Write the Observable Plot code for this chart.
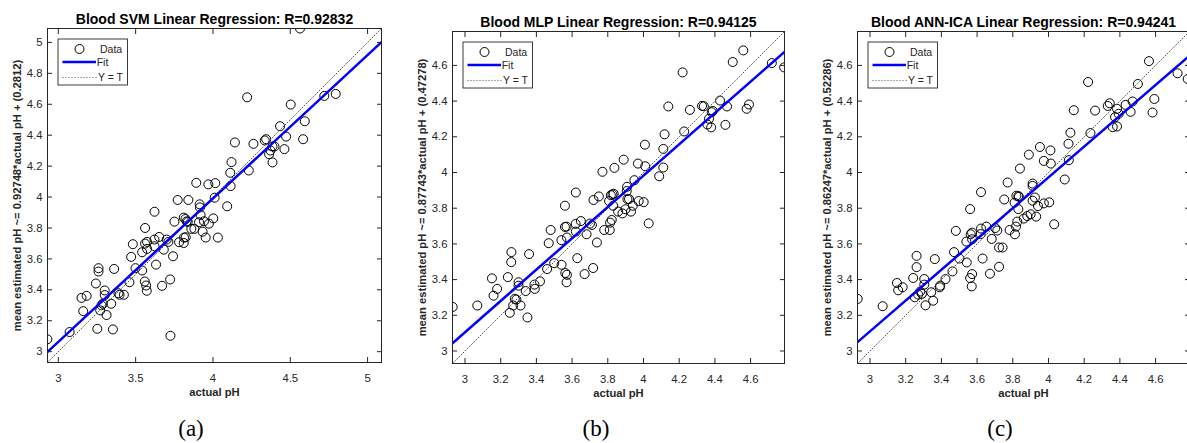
<!DOCTYPE html>
<html><head><meta charset="utf-8">
<script src="https://cdn.jsdelivr.net/npm/d3@7"></script>
<script src="https://cdn.jsdelivr.net/npm/@observablehq/plot@0.6"></script>
<style>
html,body{margin:0;padding:0;background:#fff;}
body{width:1187px;height:443px;overflow:hidden;position:relative;font-family:"Liberation Sans",Arial,sans-serif;}
.panel{position:absolute;top:0;height:400px;}
.cap{position:absolute;top:415px;width:80px;text-align:center;font-family:"Liberation Serif","DejaVu Serif",serif;font-size:23px;line-height:28px;color:#000;}
</style></head><body>
<div id="pa" class="panel" style="left:0px;width:395px"></div>
<div id="pb" class="panel" style="left:395px;width:400px"></div>
<div id="pc" class="panel" style="left:790px;width:400px"></div>
<div class="cap" style="left:151px">(a)</div>
<div class="cap" style="left:556px">(b)</div>
<div class="cap" style="left:960px">(c)</div>
<script>
// ---- data ----
const svmActual = [2.929,3.073,3.15,3.183,3.161,3.243,3.26,3.26,3.252,3.271,3.279,3.30,3.30,3.288,3.312,3.342,3.361,3.353,3.389,3.396,3.424,3.46,3.471,3.482,3.499,3.542,3.542,3.559,3.568,3.572,3.561,3.561,3.574,3.574,3.622,3.622,3.622,3.652,3.632,3.671,3.682,3.701,3.712,3.723,3.725,3.742,3.751,3.772,3.781,3.811,3.813,3.824,3.811,3.822,3.83,3.837,3.841,3.86,3.88,3.892,3.91,3.914,3.916,3.92,3.933,3.942,3.953,3.974,3.97,4.002,4.011,4.015,4.032,4.092,4.114,4.112,4.12,4.142,4.221,4.232,4.262,4.335,4.344,4.363,4.372,4.385,4.385,4.398,4.434,4.462,4.473,4.503,4.563,4.583,4.594,4.72,4.794];
const svmEstimate = [3.08,3.127,3.348,3.361,3.262,3.441,3.54,3.518,3.148,3.267,3.30,3.396,3.366,3.31,3.237,3.31,3.535,3.144,3.378,3.368,3.368,3.449,3.613,3.695,3.54,3.643,3.525,3.454,3.428,3.394,3.80,3.699,3.71,3.665,3.725,3.905,3.682,3.742,3.563,3.426,3.66,3.725,3.71,3.467,3.103,3.617,3.841,3.981,3.708,3.703,3.738,3.740,3.867,3.858,3.843,3.839,3.981,3.794,3.794,4.092,3.837,3.953,3.933,3.884,3.776,3.843,3.738,3.828,4.082,3.862,3.996,4.09,3.738,3.94,4.071,4.157,4.226,4.353,4.645,4.172,4.344,4.366,4.374,4.277,4.301,4.224,4.327,4.327,4.458,4.31,4.391,4.598,5.09,4.374,4.49,4.654,4.667];

const mlpActual = [2.931,3.069,3.151,3.16,3.18,3.24,3.26,3.259,3.251,3.27,3.279,3.288,3.30,3.30,3.311,3.34,3.35,3.359,3.389,3.391,3.42,3.46,3.469,3.48,3.50,3.54,3.541,3.56,3.56,3.562,3.569,3.569,3.571,3.571,3.621,3.621,3.62,3.629,3.649,3.67,3.681,3.70,3.711,3.718,3.72,3.739,3.75,3.77,3.78,3.811,3.813,3.822,3.807,3.817,3.826,3.833,3.83,3.837,3.858,3.882,3.889,3.899,3.908,3.906,3.91,3.919,3.93,3.94,3.949,3.969,3.973,4.001,4.008,4.01,4.029,4.088,4.111,4.111,4.118,4.139,4.219,4.228,4.26,4.328,4.338,4.358,4.367,4.379,4.382,4.388,4.429,4.459,4.468,4.50,4.559,4.578,4.591,4.719,4.788];
const mlpEstimate = [3.247,3.255,3.407,3.31,3.348,3.414,3.554,3.498,3.214,3.255,3.292,3.288,3.385,3.366,3.255,3.336,3.188,3.543,3.372,3.348,3.39,3.459,3.604,3.678,3.492,3.621,3.483,3.814,3.695,3.437,3.697,3.385,3.427,3.636,3.669,3.888,3.712,3.52,3.728,3.431,3.654,3.714,3.706,3.465,3.846,3.608,3.866,4.004,3.678,3.678,3.719,3.734,3.84,3.873,3.877,3.881,3.814,4.026,3.781,3.771,4.072,3.794,3.92,3.896,3.851,3.851,3.781,3.814,3.957,4.05,3.84,3.834,4.156,4.035,3.715,3.979,4.132,4.028,4.214,4.37,4.561,4.23,4.351,4.373,4.371,4.269,4.301,4.253,4.338,4.345,4.403,4.267,4.37,4.619,4.684,4.357,4.381,4.613,4.589];

const icaActual = [2.931,3.071,3.151,3.158,3.183,3.242,3.261,3.261,3.251,3.27,3.281,3.291,3.304,3.304,3.311,3.343,3.354,3.363,3.391,3.393,3.423,3.462,3.471,3.481,3.501,3.54,3.542,3.561,3.564,3.561,3.572,3.57,3.572,3.572,3.622,3.622,3.62,3.631,3.652,3.672,3.682,3.702,3.713,3.723,3.723,3.743,3.752,3.771,3.782,3.812,3.818,3.825,3.81,3.82,3.831,3.834,3.831,3.84,3.862,3.881,3.89,3.90,3.911,3.911,3.911,3.924,3.931,3.941,3.952,3.974,3.974,4.004,4.011,4.013,4.032,4.091,4.112,4.114,4.123,4.142,4.222,4.235,4.261,4.332,4.343,4.36,4.373,4.384,4.384,4.393,4.432,4.46,4.471,4.501,4.563,4.583,4.593,4.723,4.78];
const icaEstimate = [3.292,3.251,3.381,3.34,3.357,3.409,3.533,3.47,3.301,3.316,3.333,3.32,3.403,3.372,3.256,3.329,3.282,3.515,3.357,3.366,3.403,3.446,3.554,3.673,3.518,3.613,3.496,3.795,3.654,3.409,3.663,3.362,3.431,3.626,3.686,3.89,3.655,3.518,3.697,3.433,3.628,3.689,3.675,3.472,3.58,3.58,3.849,3.944,3.678,3.654,3.697,3.725,3.831,3.87,3.868,3.864,3.795,4.022,3.742,3.756,4.1,3.766,3.938,3.925,3.842,3.86,3.753,3.812,4.143,4.065,3.827,3.833,4.124,4.05,3.71,3.961,4.161,4.069,4.223,4.349,4.507,4.221,4.347,4.373,4.388,4.254,4.31,4.258,4.357,4.329,4.379,4.34,4.398,4.496,4.624,4.336,4.412,4.556,4.524];

const titles = ["Blood SVM Linear Regression: R=0.92832", "Blood MLP Linear Regression: R=0.94125", "Blood ANN-ICA Linear Regression: R=0.94241"];
const slopes = [0.92748, 0.87743, 0.86247];
const intercepts = [0.2812, 0.47278, 0.52286];
const yLabels = ["mean estimated pH ~= 0.92748*actual pH + (0.2812)", "mean estimated pH ~= 0.87743*actual pH + (0.47278)", "mean estimated pH ~= 0.86247*actual pH + (0.52286)"];
const xLabel = "actual pH";
const domainA = [2.93, 5.09];
const domainBC = [2.93, 4.79];
const ticksA_x = [3, 3.5, 4, 4.5, 5];
const ticksA_y = [3, 3.2, 3.4, 3.6, 3.8, 4, 4.2, 4.4, 4.6, 4.8, 5];
const ticksBC = [3, 3.2, 3.4, 3.6, 3.8, 4, 4.2, 4.4, 4.6];
const legendLabels = ["Data", "Fit", "Y = T"];

const INK = "#262626";
const FONT = "'Liberation Sans', Arial, sans-serif";

function panel(o) {
  const rows = o.actual.map((x, i) => ({x, y: o.est[i]}));
  const [lo, hi] = o.domain;
  const fit = [lo, hi].map(x => ({x, y: o.slope * x + o.intercept}));
  const ident = [lo, hi].map(v => ({x: v, y: v}));
  const fmt = d => String(d);
  const svg = Plot.plot({
    width: o.width, height: 400,
    marginLeft: o.mL, marginRight: o.mR, marginTop: o.mT, marginBottom: o.mB,
    x: {domain: o.domain, label: null},
    y: {domain: o.domain, label: null},
    style: {background: "transparent", overflow: "visible", maxWidth: "none", fontFamily: FONT},
    marks: [
      Plot.dot(rows, {x: "x", y: "y", r: 4.5, stroke: "#000", strokeWidth: 1, fill: "none", clip: true}),
      Plot.line(ident, {x: "x", y: "y", stroke: "#555", strokeWidth: 1, strokeDasharray: "1,2", clip: true}),
      Plot.line(fit, {x: "x", y: "y", stroke: "#0000ff", strokeWidth: 2.5, clip: true}),
      Plot.axisX(o.xTicks, {anchor: "bottom", tickSize: -5, tickPadding: 16, tickFormat: fmt, fontSize: 11.3, color: INK, label: null}),
      Plot.axisX(o.xTicks, {anchor: "top", tickSize: -5, tickPadding: 0, tickFormat: () => "", color: INK, label: null}),
      Plot.axisY(o.yTicks, {anchor: "left", tickSize: -5, tickPadding: 10, tickFormat: fmt, fontSize: 11.3, color: INK, label: null}),
      Plot.axisY(o.yTicks, {anchor: "right", tickSize: -5, tickPadding: 0, tickFormat: () => "", color: INK, label: null}),
      Plot.frame({stroke: INK, strokeWidth: 1}),
      Plot.text([o.title], {text: d => d, frameAnchor: "top", dy: -5, lineAnchor: "bottom", fontWeight: "bold", fontSize: 14, fill: "#000"}),
      Plot.text([xLabel], {text: d => d, frameAnchor: "bottom", dy: 33, lineAnchor: "bottom", fontWeight: "bold", fontSize: 11.2, fill: INK}),
      Plot.text([o.ylabel], {text: d => d, frameAnchor: "left", dx: -30, rotate: -90, lineAnchor: "middle", textAnchor: "middle", fontWeight: "bold", fontSize: 11.2, fill: INK})
    ]
  });
  // legend box (MATLAB style)
  const g = d3.select(svg).append("g").attr("transform", `translate(${o.mL + 11},${o.mT + 11})`)
    .attr("font-family", FONT).attr("font-size", 10.5).attr("text-anchor", "start");
  g.append("rect").attr("x", 0).attr("y", 0).attr("width", 69.5).attr("height", 46)
    .attr("fill", "#fff").attr("stroke", INK).attr("stroke-width", 0.9);
  g.append("circle").attr("cx", 21.5).attr("cy", 10).attr("r", 4.5).attr("fill", "none").attr("stroke", "#000");
  g.append("line").attr("x1", 4.5).attr("x2", 38).attr("y1", 23).attr("y2", 23).attr("stroke", "#0000ff").attr("stroke-width", 2.5);
  g.append("line").attr("x1", 4.5).attr("x2", 39).attr("y1", 38.5).attr("y2", 38.5).attr("stroke", "#555").attr("stroke-dasharray", "1,2");
  [[10, 42], [23, 38.7], [38.5, 40]].forEach(([yy, xx], i) => {
    g.append("text").attr("x", xx).attr("y", yy).attr("dy", "0.35em").attr("fill", INK).attr("text-anchor", "start").text(legendLabels[i]);
  });
  document.getElementById(o.el).appendChild(svg);
}

panel({el: "pa", width: 395, mL: 47, mR: 14, mT: 28, mB: 38, domain: domainA, xTicks: ticksA_x, yTicks: ticksA_y,
  actual: svmActual, est: svmEstimate, slope: slopes[0], intercept: intercepts[0], title: titles[0], ylabel: yLabels[0]});
panel({el: "pb", width: 400, mL: 57, mR: 11, mT: 31, mB: 37, domain: domainBC, xTicks: ticksBC, yTicks: ticksBC,
  actual: mlpActual, est: mlpEstimate, slope: slopes[1], intercept: intercepts[1], title: titles[1], ylabel: yLabels[1]});
panel({el: "pc", width: 400, mL: 67, mR: 1, mT: 31, mB: 37, domain: domainBC, xTicks: ticksBC, yTicks: ticksBC,
  actual: icaActual, est: icaEstimate, slope: slopes[2], intercept: intercepts[2], title: titles[2], ylabel: yLabels[2]});
</script>
</body></html>
